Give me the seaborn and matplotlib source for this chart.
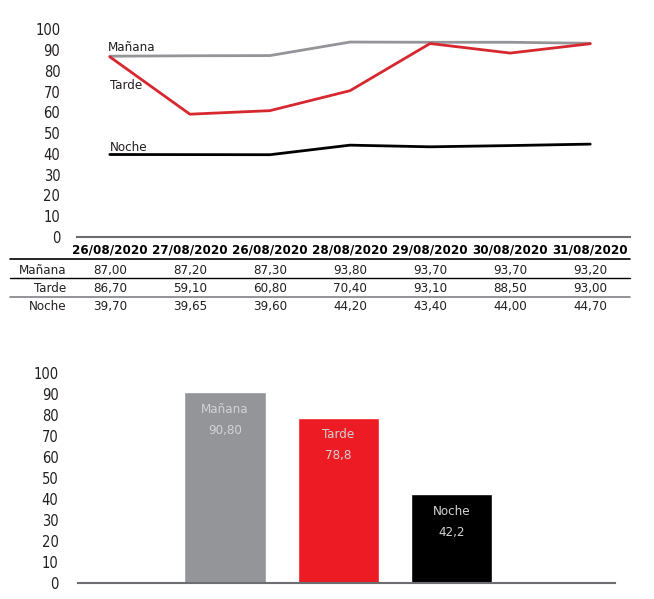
import matplotlib
matplotlib.use("Agg")
import matplotlib.pyplot as plt
import matplotlib.transforms as mtransforms
import seaborn as sns
import pandas as pd

# data
fechas = ["26/08/2020", "27/08/2020", "26/08/2020", "28/08/2020",
          "29/08/2020", "30/08/2020", "31/08/2020"]
manana = [87.00, 87.20, 87.30, 93.80, 93.70, 93.70, 93.20]
tarde = [86.70, 59.10, 60.80, 70.40, 93.10, 88.50, 93.00]
noche = [39.70, 39.65, 39.60, 44.20, 43.40, 44.00, 44.70]

turnos = ["Mañana", "Tarde", "Noche"]
promedios = [90.8, 78.8, 42.2]
promedio_txt = ["90,80", "78,8", "42,2"]

colores = {"Mañana": "#939598", "Tarde": "#d7282f", "Noche": "#000000"}
colores_bar = ["#939598", "#ed1c24", "#000000"]

sns.set_theme(style="white")
plt.rcParams["font.family"] = ["DejaVu Sans"]
plt.rcParams["font.stretch"] = "condensed"

df = pd.DataFrame({"pos": list(range(len(fechas))) * 3,
                   "valor": manana + tarde + noche,
                   "turno": ["Mañana"] * 7 + ["Tarde"] * 7 + ["Noche"] * 7})

fig = plt.figure(figsize=(6.54, 5.99), dpi=100)

# top line chart
ax1 = fig.add_axes([0.1177, 0.6043, 0.846, 0.347])
sns.lineplot(data=df, x="pos", y="valor", hue="turno", palette=colores,
             linewidth=2, legend=False, ax=ax1)
ax1.set_xlim(-0.41, 6.5)
ax1.set_ylim(0, 100)
ax1.set_yticks(range(0, 101, 10))
ax1.set_xticks([])
ax1.set_xlabel("")
ax1.set_ylabel("")
ax1.tick_params(axis="y", labelsize=10.5, pad=12, colors="#231f20", length=0)
for s in ["top", "right", "left"]:
    ax1.spines[s].set_visible(False)
ax1.spines["bottom"].set_color("#6d6e71")
ax1.spines["bottom"].set_linewidth(1.5)

ax1.text(-0.03, 91.3, "Mañana", fontsize=9.5, color="#231f20", ha="left", va="center")
ax1.text(0.0, 73, "Tarde", fontsize=9.5, color="#231f20", ha="left", va="center")
ax1.text(0.0, 43.3, "Noche", fontsize=9.5, color="#231f20", ha="left", va="center")

# table under the chart
trans = mtransforms.blended_transform_factory(ax1.transData, fig.transFigure)
for i, f in enumerate(fechas):
    ax1.text(i, 0.5826, f, transform=trans, ha="center", va="center",
             fontsize=9.5, fontweight="bold", color="#000000")
filas = [("Mañana", manana, 0.549), ("Tarde", tarde, 0.519), ("Noche", noche, 0.489)]
for nombre, vals, yy in filas:
    fig.text(66 / 654, yy, nombre, ha="right", va="center", fontsize=9.5, color="#231f20")
    for i, v in enumerate(vals):
        ax1.text(i, yy, f"{v:.2f}".replace(".", ","), transform=trans,
                 ha="center", va="center", fontsize=9.5, color="#231f20")
for yy, col, lw in [(0.5676, "#000000", 1.2), (0.5359, "#000000", 1.0), (0.5042, "#808285", 1.2)]:
    fig.add_artist(plt.Line2D([10 / 654, 630 / 654], [yy, yy], color=col, linewidth=lw))

# bottom bar chart
ax2 = fig.add_axes([0.119, 0.0267, 0.821, 0.3506])
sns.barplot(x=list(range(3)), y=promedios, hue=list(range(3)), palette=colores_bar,
            width=0.72, saturation=1, legend=False, ax=ax2)
ax2.set_xlim(-1.3, 3.44)
ax2.set_ylim(0, 100)
ax2.set_yticks(range(0, 101, 10))
ax2.set_xticks([])
ax2.tick_params(axis="y", labelsize=10.5, pad=14, colors="#231f20", length=0)
for s in ["top", "right", "left"]:
    ax2.spines[s].set_visible(False)
ax2.spines["bottom"].set_color("#6d6e71")
ax2.spines["bottom"].set_linewidth(1.5)
for i, (t, v, txt) in enumerate(zip(turnos, promedios, promedio_txt)):
    ax2.text(i, v - 8, t, ha="center", va="center", fontsize=9.5, color="#d1d3d4")
    ax2.text(i, v - 18, txt, ha="center", va="center", fontsize=9.5, color="#d1d3d4")

fig.savefig("out.png", dpi=100)
